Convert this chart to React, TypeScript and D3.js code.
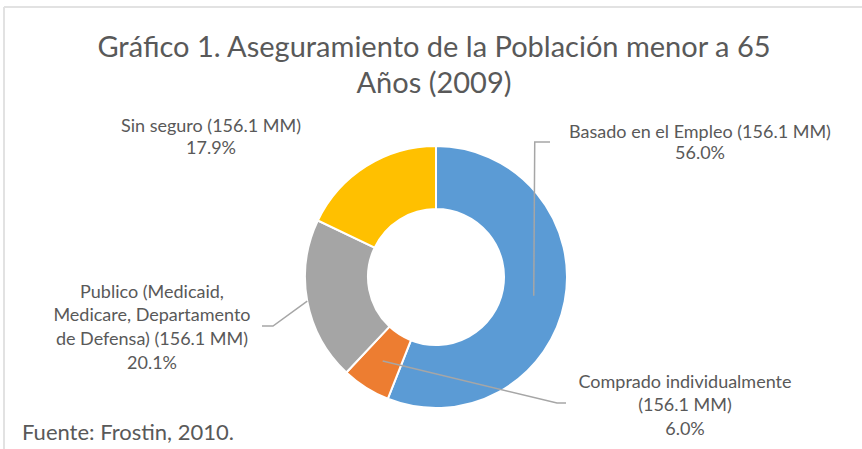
import React from "react";
import * as d3 from "d3";

const categories = [
  "Basado en el Empleo",
  "Comprado individualmente",
  "Publico (Medicaid, Medicare, Departamento de Defensa)",
  "Sin seguro",
];
const values = [56.0, 6.0, 20.1, 17.9];
const totals = ["156.1 MM", "156.1 MM", "156.1 MM", "156.1 MM"];
const colors = ["#5B9BD5", "#ED7D31", "#A5A5A5", "#FFC000"];
const titleLines = ["Gráfico 1. Aseguramiento de la Población menor a 65", "Años (2009)"];
const sourceText = "Fuente: Frostin, 2010.";

const W = 862;
const H = 449;
const cx = 436;
const cy = 277;
const rOuter = 131;
const rInner = 68;
const FONT = "Lato, 'Open Sans', sans-serif";
const TXT = "#595959";

export default function App() {
  const pie = d3.pie<number>().sort(null).value((d) => d);
  const arcs = pie(values);
  const arc = d3.arc<d3.PieArcDatum<number>>().innerRadius(rInner).outerRadius(rOuter);
  const outerArc = d3.arc<d3.PieArcDatum<number>>().innerRadius(rOuter).outerRadius(rOuter);
  const pct = (v: number) => `${v.toFixed(1)}%`;

  const c0 = arc.centroid(arcs[0]);
  const c1 = arc.centroid(arcs[1]);
  const o2 = outerArc.centroid(arcs[2]);

  const line = d3.line();
  const leader0 = line([
    [cx + c0[0], cy + c0[1]],
    [cx + c0[0] + 1, 142],
    [550, 142],
  ]);
  const leader1 = line([
    [cx + c1[0], cy + c1[1]],
    [557, 403],
    [566, 403],
  ]);
  const leader2 = line([
    [cx + o2[0], cy + o2[1]],
    [273, 326],
    [262, 326],
  ]);

  const labelStyle = { fontFamily: FONT, fontSize: 18, fill: TXT } as const;

  return (
    <div style={{ position: "absolute", left: 0, top: 0 }}>
      <svg width={W} height={H} style={{ display: "block", background: "#fff" }}>
        <line x1={4} y1={7} x2={W} y2={7} stroke="#e2e2e2" strokeWidth={2} />
        <line x1={4} y1={7} x2={4} y2={H} stroke="#e2e2e2" strokeWidth={2} />

        <text x={434} y={57} textAnchor="middle" style={{ fontFamily: FONT, fontSize: 29, fill: TXT }}>
          {titleLines[0]}
        </text>
        <text x={434} y={93} textAnchor="middle" style={{ fontFamily: FONT, fontSize: 29, fill: TXT }}>
          {titleLines[1]}
        </text>

        <g transform={`translate(${cx},${cy})`}>
          {arcs.map((a, i) => (
            <path key={i} d={arc(a) || ""} fill={colors[i]} stroke="#fff" strokeWidth={2} />
          ))}
        </g>

        <g fill="none" stroke="#A6A6A6" strokeWidth={1.5}>
          <path d={leader0 || ""} />
          <path d={leader1 || ""} />
          <path d={leader2 || ""} />
        </g>

        <g style={labelStyle} textAnchor="middle">
          <text x={700} y={138}>{`${categories[0]} (${totals[0]})`}</text>
          <text x={700} y={159}>{pct(values[0])}</text>

          <text x={685} y={388}>{categories[1]}</text>
          <text x={685} y={411}>{`(${totals[1]})`}</text>
          <text x={685} y={435}>{pct(values[1])}</text>

          <text x={152} y={298}>Publico (Medicaid,</text>
          <text x={152} y={321}>Medicare, Departamento</text>
          <text x={152} y={345}>{`de Defensa) (${totals[2]})`}</text>
          <text x={152} y={369}>{pct(values[2])}</text>

          <text x={211} y={132}>{`${categories[3]} (${totals[3]})`}</text>
          <text x={211} y={154}>{pct(values[3])}</text>
        </g>

        <text x={22} y={440} style={{ fontFamily: FONT, fontSize: 22, fill: TXT }}>
          {sourceText}
        </text>
      </svg>
    </div>
  );
}
